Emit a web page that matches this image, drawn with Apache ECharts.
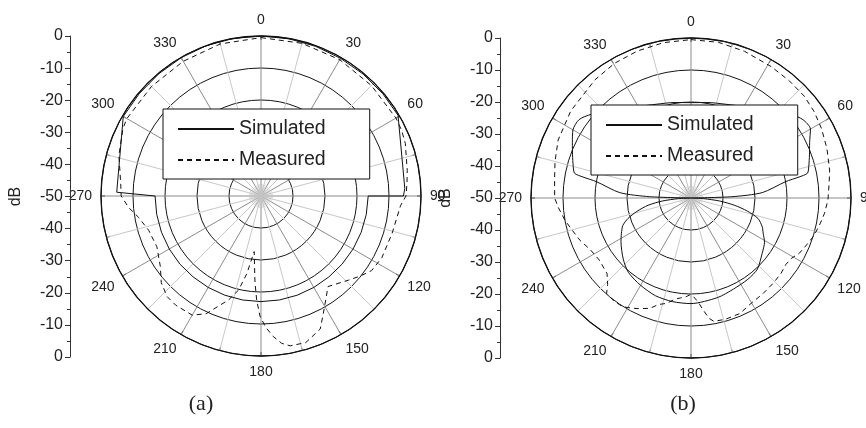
<!DOCTYPE html>
<html>
<head>
<meta charset="utf-8">
<script src="https://cdn.jsdelivr.net/npm/echarts@6/dist/echarts.min.js"></script>
<style>html,body{margin:0;padding:0;background:#fff}#c{width:866px;height:428px}</style>
</head>
<body>
<div id="c"></div>
<script>
// ---- Data (angle in degrees, level in dB) ----
const angA_sim = [0,10,20,30,40,50,59.5,87,90,90,100,110,120,130,140,150,160,170,180,190,200,210,220,230,240,250,260,270,270,271.5,300,310,320,330,340,350,360];
const dbA_sim  = [0,-0.1,-0.2,-0.3,-0.3,-0.3,-0.3,-5.0,-5.5,-16.5,-16.6,-16.7,-16.8,-16.9,-17,-17,-17,-17,-17,-17,-17,-17,-17,-16.9,-16.9,-16.9,-16.9,-16.9,-16.9,-4.9,-0.3,-0.3,-0.2,-0.1,0,0,0];

const angA_meas = [0,15,30,45,60,65,70,75,80,85,90,94,106,117,124,129,134,143.5,148,152,156,163,169,172,175,178,180.5,182.4,184,187,190.3,193.4,197.3,205,210,218,223,229,235,244,253,260,265,270,275,286,296,300,315,330,345,360];
const dbA_meas  = [-0.5,-0.6,-0.8,-1.2,-1.3,-1.5,-2,-3,-3.6,-4.2,-4.7,-6.3,-7.4,-7.6,-8.3,-10.2,-12.1,-14.8,-11.8,-8.5,-4.5,-2.1,-2.3,-3.5,-5.9,-9,-12.5,-17.5,-23,-32.5,-25.4,-19.8,-16,-9.4,-7,-6.7,-7,-8.7,-11.6,-13.8,-13.3,-11.2,-8.5,-6.3,-6.0,-3.8,-2.0,-1.6,-1.6,-1.4,-0.8,-0.5];

// (b) simulated: upper lobe then lower lobe
const angB_simUp = [270,271.8,274.3,279.8,281,282,285,290,295,300,305,310,315,320,330,340,350,360,10,20,30,40,45,50,55,60,65,70,75,78,79,80.2,85.7,88.2,90];
const dbB_simUp  = [-50,-37.1,-27.7,-20,-15.6,-12.8,-11.9,-10.6,-9.1,-7.4,-7.3,-9.3,-12,-14.1,-17,-18.8,-19.7,-20.2,-19.7,-18.8,-17,-14.1,-12,-9.3,-7.3,-6.9,-9.1,-10.6,-11.9,-12.8,-15.6,-20,-27.7,-37.2,-50];
const angB_simLo = [90,93,96,99.5,103,107,112,116,121,128,137,145,155,165,180,190,200,210,220,228,238,243,248,252,256,260.4,264,267,270];
const dbB_simLo  = [-50,-46,-41,-36.2,-32,-28.1,-26,-24.9,-23.2,-21.8,-19.6,-19,-18.6,-17.8,-17,-17.1,-17.5,-18.5,-19.6,-21.5,-24.2,-25.6,-27,-29.3,-32.5,-36.4,-41,-46,-50];

const angB_meas = [0,10,20,31.5,40,48,55,62,70,78.6,84,90.8,96.5,101,107,112,117,121,125,130,136,143,151,157,164,169.5,171.5,174,176,179,180.5,182.5,186,189,193,197,200.4,205.5,208,212,217,221.5,224,228,236,243,249,255,260,266,270,277.5,285,293.6,306,321,330.5,340,350,360];
const dbB_meas  = [-0.5,-0.6,-1.2,-1.9,-2.2,-2.4,-3,-3.8,-4.8,-5.8,-6.6,-7.2,-8,-8.8,-9.8,-11,-12,-13.4,-13.8,-13.3,-13,-12.6,-12,-10.8,-10.6,-10.8,-12,-15,-17.4,-19.4,-19.8,-19.2,-18.6,-18,-16.2,-15.2,-13.2,-11.7,-11,-9.9,-9.8,-10.2,-12.5,-14.7,-15.4,-14.6,-12.9,-11.5,-10,-8.4,-7.4,-7,-6,-4.7,-3.6,-2.4,-1.6,-1.1,-0.7,-0.5];

const angleTicks = [0,30,60,90,120,150,180,210,240,270,300,330];
const dbTickLabels = [0,-10,-20,-30,-40,-50,-40,-30,-20,-10,0];
const names = ['Simulated','Measured'];

function pts(a, d){ return a.map((v,i)=>[d[i], v]); }

const FONT = 'Liberation Sans, Arial, sans-serif';
const centers = [[261,196],[691,198]];

function angleAxis(pi){
  return {
    polarIndex: pi, type:'value', min:0, max:360, interval:30, startAngle:90, clockwise:true,
    axisLine:{show:true, lineStyle:{color:'#111', width:1.3}},
    axisTick:{show:true, inside:true, length:4, lineStyle:{color:'#222'}},
    minorTick:{show:true, splitNumber:2, length:4, lineStyle:{color:'#222'}},
    axisLabel:{show:true, margin:9, fontSize:14, color:'#222', fontFamily:FONT,
      formatter:v => angleTicks.indexOf(v) >= 0 ? String(v) : ''},
    splitLine:{show:true, lineStyle:{color:'#8c8c8c', width:1}},
    minorSplitLine:{show:true, lineStyle:{color:'#c8c8c8', width:1}}
  };
}
function radiusAxis(pi){
  return {
    polarIndex: pi, type:'value', min:-50, max:0, interval:10,
    axisLine:{show:false}, axisTick:{show:false}, axisLabel:{show:false},
    splitLine:{show:true, lineStyle:{color:'#151515', width:1}}
  };
}
function starAngle(pi){
  return {polarIndex:pi, type:'value', min:0, max:360, interval:7.5, startAngle:90,
    axisLine:{show:false}, axisTick:{show:false}, axisLabel:{show:false},
    splitLine:{show:true, lineStyle:{color:'#c4c4c4', width:0.6}}};
}
function starRadius(pi){
  return {polarIndex:pi, type:'value', min:0, max:1, axisLine:{show:false}, axisTick:{show:false},
    axisLabel:{show:false}, splitLine:{show:false}};
}
function yAxis(gi){
  return {
    gridIndex: gi, type:'value', min:-50, max:50, interval:10,
    name:'dB', nameLocation:'middle', nameGap:46, nameRotate:90,
    nameTextStyle:{fontSize:16, color:'#222', fontFamily:FONT},
    axisLine:{show:true, lineStyle:{color:'#333', width:1}},
    axisTick:{show:true, length:5, lineStyle:{color:'#333'}},
    minorTick:{show:true, splitNumber:2, length:3, lineStyle:{color:'#333'}},
    splitLine:{show:false},
    axisLabel:{margin:7, fontSize:16, color:'#222', fontFamily:FONT,
      formatter:v => String(dbTickLabels[Math.round((50 - v)/10)])}
  };
}
const solid = {color:'#111', width:1, type:'solid'};
const dashed = {color:'#111', width:1, type:[5,4]};
function lineSeries(name, pi, data, style, smooth){
  return {name, type:'line', coordinateSystem:'polar', polarIndex:pi, data, symbol:'none',
    smooth: smooth || false, lineStyle:style, itemStyle:{color:'#111'}, animation:false, z:3};
}
function legend(left, top){
  return {orient:'vertical', left, top, data:names, itemWidth:56, itemHeight:14, itemGap:11,
    padding:[10,44,9,14], backgroundColor:'#fff', borderColor:'#111', borderWidth:1,
    itemStyle:{opacity:0},
    textStyle:{fontSize:19.5, color:'#222', fontFamily:FONT, lineHeight:20}, selectedMode:false};
}

const chart = echarts.init(document.getElementById('c'), null, {renderer:'canvas'});
chart.setOption({
  animation:false,
  backgroundColor:'#fff',
  polar:[
    {center:centers[0], radius:160},
    {center:centers[1], radius:160},
    {center:centers[0], radius:12},
    {center:centers[1], radius:12}
  ],
  angleAxis:[angleAxis(0), angleAxis(1), starAngle(2), starAngle(3)],
  radiusAxis:[radiusAxis(0), radiusAxis(1), starRadius(2), starRadius(3)],
  grid:[
    {left:70, top:36, width:1, height:321, containLabel:false},
    {left:500, top:38, width:1, height:320, containLabel:false}
  ],
  xAxis:[{gridIndex:0, type:'value', show:false},{gridIndex:1, type:'value', show:false}],
  yAxis:[yAxis(0), yAxis(1)],
  legend:[legend(163,109), legend(591,105)],
  series:[
    lineSeries('Simulated', 0, pts(angA_sim, dbA_sim), solid),
    lineSeries('Measured', 0, pts(angA_meas, dbA_meas), dashed),
    lineSeries('Simulated', 1, pts(angB_simUp, dbB_simUp), solid, 0.25),
    lineSeries('Simulated', 1, pts(angB_simLo, dbB_simLo), solid, 0.25),
    lineSeries('Measured', 1, pts(angB_meas, dbB_meas), dashed)
  ],
  graphic:[
    {type:'text', x:201, y:404, style:{text:'(a)', font:'22px "Liberation Serif", "Times New Roman", serif', fill:'#222', textAlign:'center', textVerticalAlign:'middle'}},
    {type:'text', x:683, y:404, style:{text:'(b)', font:'22px "Liberation Serif", "Times New Roman", serif', fill:'#222', textAlign:'center', textVerticalAlign:'middle'}}
  ]
});
</script>
</body>
</html>
